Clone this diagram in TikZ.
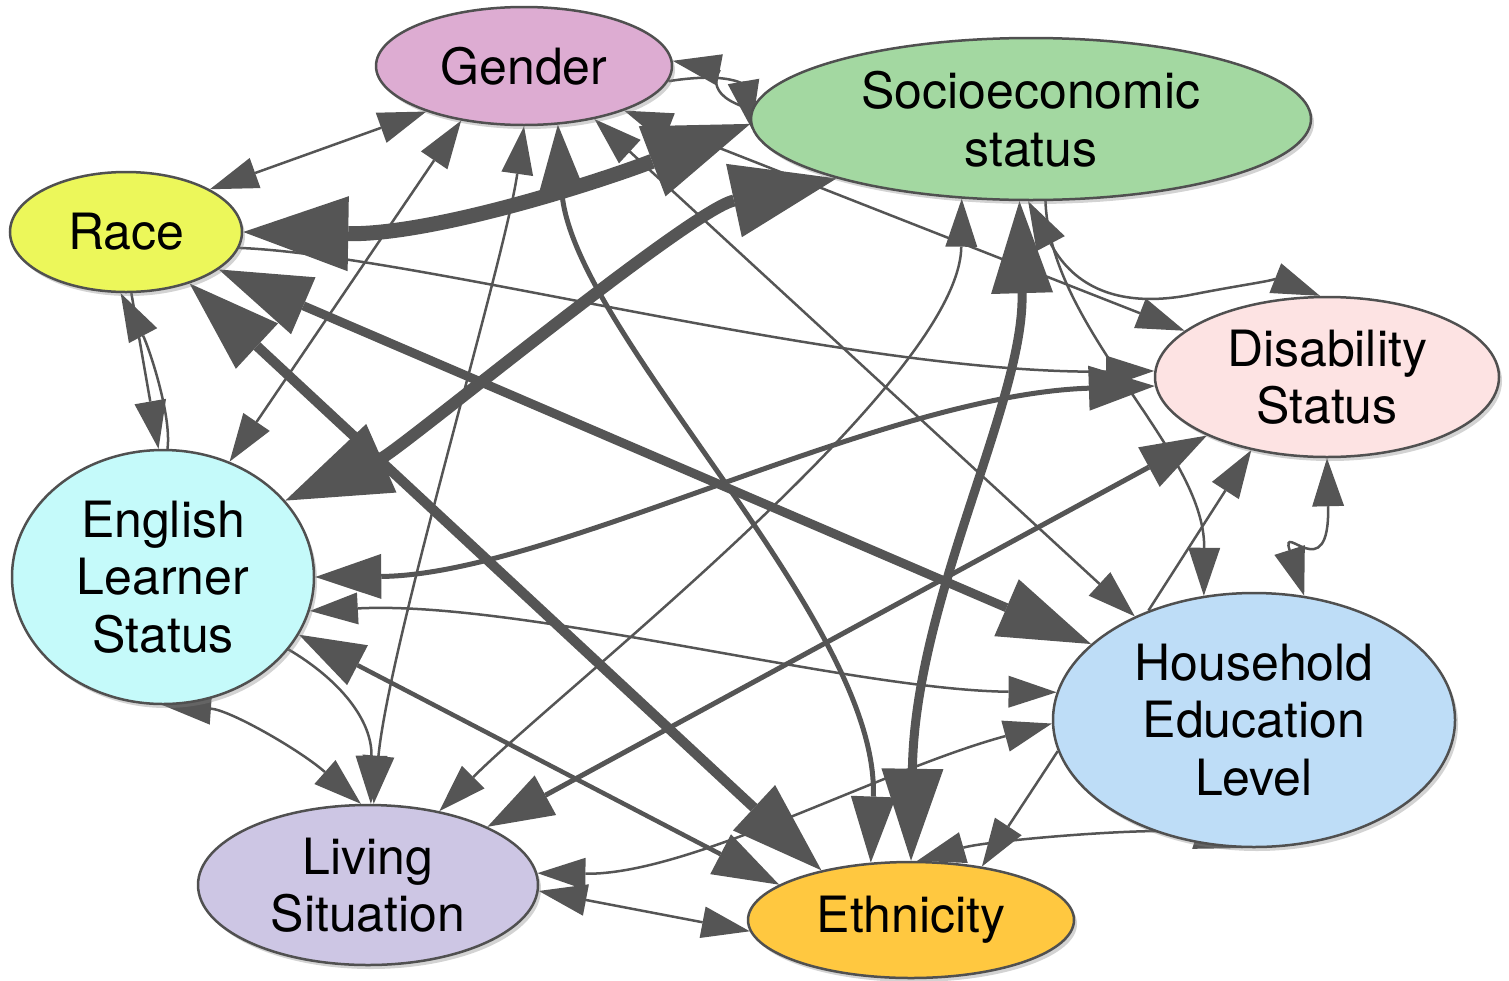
\documentclass[tikz,border=0pt]{standalone}
\usepackage{fontspec}
\setmainfont{TeX Gyre Heros}
\usepackage{tikz}
\usetikzlibrary{arrows.meta,shapes.geometric,shadows,backgrounds}
\definecolor{edge}{RGB}{85,85,85}
\definecolor{rim}{RGB}{80,80,80}
\definecolor{cgen}{RGB}{221,172,210}
\definecolor{cses}{RGB}{163,216,161}
\definecolor{crace}{RGB}{236,247,90}
\definecolor{cdis}{RGB}{253,227,227}
\definecolor{cell}{RGB}{197,250,250}
\definecolor{chhe}{RGB}{190,221,247}
\definecolor{cliv}{RGB}{205,198,228}
\definecolor{ceth}{RGB}{255,200,64}

\begin{document}
\begin{tikzpicture}[
  x=1pt, y=1pt,
  font=\fontsize{50}{57.5}\selectfont,
  var/.style={ellipse, draw=rim, line width=2.5pt, inner sep=0pt, align=center,
    drop shadow={shadow xshift=3pt, shadow yshift=-4pt, opacity=0.35}},
  ar/.style={draw=edge, line width=2.5pt, >={Triangle[length=48pt,width=32pt,line width=0pt]}},
  arm/.style={ar, line width=5pt, >={Triangle[length=66pt,width=45pt,line width=0pt]}},
  arb/.style={ar, line width=9pt, >={Triangle[length=92pt,width=62pt,line width=0pt]}},
  arh/.style={ar, line width=13pt, >={Triangle[length=105pt,width=75pt,line width=0pt]}}
]
\useasboundingbox (0,0) rectangle (1509,-980);

\node[var, fill=cgen, minimum width=296pt, minimum height=118pt] (gender) at (524,-66) {Gender};
\node[var, fill=cses, minimum width=560pt, minimum height=162pt] (ses) at (1031,-119) {Socioeconomic\\status};
\node[var, fill=crace, minimum width=232pt, minimum height=120pt] (race) at (126,-232) {Race};
\node[var, fill=cdis, minimum width=344pt, minimum height=160pt] (dis) at (1327,-377) {Disability\\Status};
\node[var, fill=cell, minimum width=302pt, minimum height=254pt] (ell) at (163,-577) {English\\Learner\\Status};
\node[var, fill=chhe, minimum width=402pt, minimum height=254pt] (hhe) at (1254,-720) {Household\\Education\\Level};
\node[var, fill=cliv, minimum width=340pt, minimum height=160pt] (liv) at (368,-885) {Living\\Situation};
\node[var, fill=ceth, minimum width=326pt, minimum height=116pt] (eth) at (911,-920) {Ethnicity};

\begin{scope}[on background layer]
\draw[arh,<->,line width=15pt] (race.east) .. controls (430,-235) and (590,-185) .. (ses.181);
\draw[arh,<->,line width=12pt] (ell.32) .. controls (400,-450) and (690,-210) .. (ses.197);
\draw[arb,<->] (race.338) -- (hhe.155);
\draw[arb,<->,line width=10pt] (race.321) -- (eth.151);
\draw[arb,<->] (ses.262) .. controls (1025,-400) and (915,-600) .. (eth.90);
\draw[arm,<->] (gender.300) .. controls (570,-330) and (880,-620) .. (eth.125);
\draw[arm,<->] (dis.206) -- (liv.26);
\draw[arm,<->] (ell.0) .. controls (550,-575) and (880,-395) .. (dis.183);
\draw[arm,<->,line width=4.5pt] (ell.337) -- (eth.165);
\draw[ar,<->] (race.27) -- (gender.205);
\draw[ar,->] (race.275) -- (ell.92);
\draw[ar,->] (ell.88) .. controls (172,-415) and (148,-345) .. (race.265);
\draw[ar,->] (race.352) .. controls (420,-255) and (850,-375) .. (dis.178);
\draw[ar,<->] (gender.221) -- (ell.60);
\draw[ar,<->] (gender.270) .. controls (505,-260) and (390,-640) .. (liv.86);
\draw[ar,->] (ell.330) .. controls (340,-680) and (372,-720) .. (liv.88);
\draw[ar,<->] (ell.270) .. controls (230,-710) and (300,-750) .. (liv.95);
\draw[ar,<->] (gender.323) -- (hhe.139);
\draw[ar,<->] (gender.336) -- (dis.162);
\draw[ar,->] (ses.178) .. controls (700,-95) and (720,-70) .. (gender.2);
\draw[ar,->] (gender.354) .. controls (740,-70) and (745,-90) .. (ses.182);
\draw[ar,<->] (ses.229) .. controls (960,-380) and (560,-690) .. (liv.46);
\draw[ar,<->] (ses.268) .. controls (1070,-280) and (1110,-310) .. (1190,-295)
  .. controls (1240,-285) and (1280,-280) .. (dis.95);
\draw[ar,->] (ses.280) .. controls (1050,-330) and (1205,-450) .. (hhe.112);
\draw[ar,->] (hhe.134) -- (dis.224);
\draw[ar,<->] (dis.270) .. controls (1330,-590) and (1280,-520) .. (hhe.68);
\draw[ar,<->] (ell.347) .. controls (520,-600) and (850,-690) .. (hhe.172);
\draw[ar,<->] (liv.358) -- (eth.184);
\draw[ar,<->] (liv.4) .. controls (690,-875) and (880,-770) .. (hhe.181);
\draw[ar,<->] (eth.84) .. controls (990,-840) and (1170,-825) .. (hhe.265);
\draw[ar,->] (hhe.189) -- (eth.37);
\end{scope}
\end{tikzpicture}
\end{document}
